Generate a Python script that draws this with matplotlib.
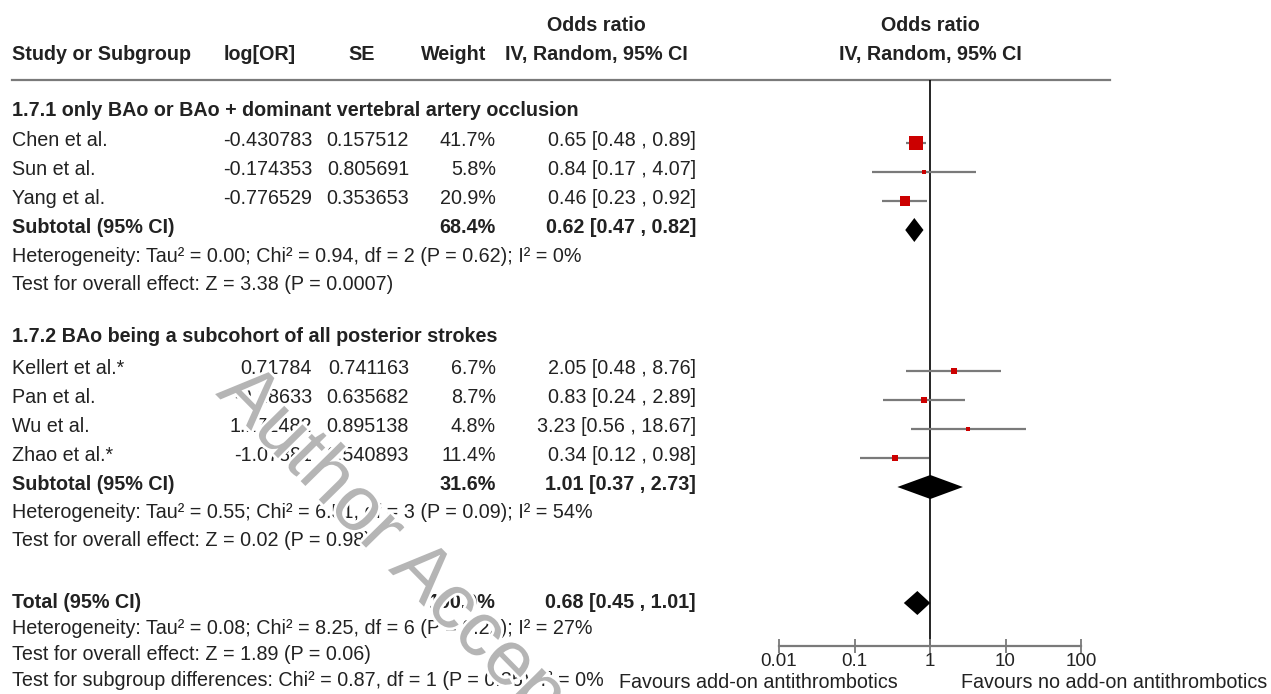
import matplotlib
matplotlib.use("Agg")
import matplotlib.pyplot as plt
import matplotlib.patheffects as pe
from matplotlib.ticker import FixedLocator, FixedFormatter, NullLocator
import numpy as np

# ---- data ----
group1_title = "1.7.1 only BAo or BAo + dominant vertebral artery occlusion"
group1_studies = ["Chen et al.", "Sun et al.", "Yang et al."]
group1_log_or = [-0.430783, -0.174353, -0.776529]
group1_se = [0.157512, 0.805691, 0.353653]
group1_weight = [41.7, 5.8, 20.9]
group1_or = [0.65, 0.84, 0.46]
group1_lo = [0.48, 0.17, 0.23]
group1_hi = [0.89, 4.07, 0.92]
group1_sub = (68.4, 0.62, 0.47, 0.82)
group1_het = "Heterogeneity: Tau² = 0.00; Chi² = 0.94, df = 2 (P = 0.62); I² = 0%"
group1_test = "Test for overall effect: Z = 3.38 (P = 0.0007)"

group2_title = "1.7.2 BAo being a subcohort of all posterior strokes"
group2_studies = ["Kellert et al.*", "Pan et al.", "Wu et al.", "Zhao et al.*"]
group2_log_or = [0.71784, -0.18633, 1.172482, -1.07881]
group2_se = [0.741163, 0.635682, 0.895138, 0.540893]
group2_weight = [6.7, 8.7, 4.8, 11.4]
group2_or = [2.05, 0.83, 3.23, 0.34]
group2_lo = [0.48, 0.24, 0.56, 0.12]
group2_hi = [8.76, 2.89, 18.67, 0.98]
group2_sub = (31.6, 1.01, 0.37, 2.73)
group2_het = "Heterogeneity: Tau² = 0.55; Chi² = 6.51, df = 3 (P = 0.09); I² = 54%"
group2_test = "Test for overall effect: Z = 0.02 (P = 0.98)"

total = (100.0, 0.68, 0.45, 1.01)
total_het = "Heterogeneity: Tau² = 0.08; Chi² = 8.25, df = 6 (P = 0.22); I² = 27%"
total_test = "Test for overall effect: Z = 1.89 (P = 0.06)"
subgroup_test = "Test for subgroup differences: Chi² = 0.87, df = 1 (P = 0.35), I² = 0%"

axis_ticks = [0.01, 0.1, 1, 10, 100]
axis_labels = ["0.01", "0.1", "1", "10", "100"]
favours_left = "Favours add-on antithrombotics"
favours_right = "Favours no add-on antithrombotics"

# ---- style ----
W, H = 1271, 694
FONT = "Liberation Sans"
FS = 14.2
TXT = "#222222"
GRAY = "#7a7a7a"
RED = "#cc0000"

plt.rcParams["font.family"] = [FONT, "DejaVu Sans"]

fig = plt.figure(figsize=(W / 100, H / 100), dpi=100)
fig.patch.set_facecolor("white")

# full-figure axes in pixel units for the table
ax = fig.add_axes([0, 0, 1, 1])
ax.set_xlim(0, W)
ax.set_ylim(H, 0)
ax.axis("off")

# forest plot axes: log scale from 0.01 to 100
x_lo_px, x_hi_px = 779, 1081
y_top_px, y_axis_px = 80, 646
fa = fig.add_axes([x_lo_px / W, (H - y_axis_px) / H,
                   (x_hi_px - x_lo_px) / W, (y_axis_px - y_top_px) / H])
fa.set_xscale("log")
fa.set_xlim(axis_ticks[0], axis_ticks[-1])
fa.set_ylim(y_axis_px, y_top_px)
fa.patch.set_alpha(0)
for s in ("top", "left", "right"):
    fa.spines[s].set_visible(False)
fa.spines["bottom"].set_color(GRAY)
fa.spines["bottom"].set_linewidth(1.6)
fa.xaxis.set_major_locator(FixedLocator(axis_ticks))
fa.xaxis.set_major_formatter(FixedFormatter(axis_labels))
fa.xaxis.set_minor_locator(NullLocator())
fa.tick_params(axis="x", direction="inout", length=10, width=1.3, color=GRAY,
               labelsize=13.6, labelcolor=TXT, pad=0)
fa.set_yticks([])
fa.axvline(1, color="black", lw=1.2, zorder=1)

# column positions (pixels)
X_STUDY = 12
X_LOGOR = 312
X_SE = 409
X_WEIGHT = 496
X_CI = 696
HDR_TABLE_C = 596
HDR_PLOT_C = 930


def txt(x, y, s, ha="left", bold=False, **kw):
    ax.text(x, y, s, ha=ha, va="center", fontsize=FS, color=TXT,
            fontweight="bold" if bold else "normal", **kw)


def ci_text(o, lo, hi):
    return f"{o:.2f} [{lo:.2f} , {hi:.2f}]"


# header
txt(HDR_TABLE_C, 25, "Odds ratio", ha="center", bold=True)
txt(HDR_PLOT_C, 25, "Odds ratio", ha="center", bold=True)
txt(X_STUDY, 54, "Study or Subgroup", bold=True)
txt(260, 54, "log[OR]", ha="center", bold=True)
txt(362, 54, "SE", ha="center", bold=True)
txt(454, 54, "Weight", ha="center", bold=True)
txt(HDR_TABLE_C, 54, "IV, Random, 95% CI", ha="center", bold=True)
txt(HDR_PLOT_C, 54, "IV, Random, 95% CI", ha="center", bold=True)
ax.plot([12, 1110], [80, 80], color=GRAY, lw=1.6)

MARK_OFF = 3
SQ_K = 2.05 * 0.72  # square side (pt) per sqrt(weight)
DIAMOND_H = 12


def draw_diamond(o, lo, hi, y):
    fa.fill([lo, o, hi, o], [y, y - DIAMOND_H, y, y + DIAMOND_H],
            color="black", lw=0, zorder=3)


def draw_group(title, y_title, rows_y, studies, log_or, se, weight, ors, los, his,
               sub, y_sub, het, y_het, test, y_test):
    txt(X_STUDY, y_title, title, bold=True)
    for y, name, lg, s, w, o, lo, hi in zip(rows_y, studies, log_or, se, weight, ors, los, his):
        txt(X_STUDY, y, name)
        txt(X_LOGOR, y, str(lg), ha="right")
        txt(X_SE, y, str(s), ha="right")
        txt(X_WEIGHT, y, f"{w:.1f}%", ha="right")
        txt(X_CI, y, ci_text(o, lo, hi), ha="right")
        ym = y + MARK_OFF
        fa.hlines(ym, lo, hi, color=GRAY, lw=1.6, zorder=2)
        fa.plot([o], [ym], marker="s", ms=SQ_K * np.sqrt(w), color=RED,
                mec=RED, mew=0, zorder=3, clip_on=False)
    sw, so, slo, shi = sub
    txt(X_STUDY, y_sub, "Subtotal (95% CI)", bold=True)
    txt(X_WEIGHT, y_sub, f"{sw:.1f}%", ha="right", bold=True)
    txt(X_CI, y_sub, ci_text(so, slo, shi), ha="right", bold=True)
    draw_diamond(so, slo, shi, y_sub + MARK_OFF)
    txt(X_STUDY, y_het, het)
    txt(X_STUDY, y_test, test)


draw_group(group1_title, 110, [140, 169, 198], group1_studies, group1_log_or,
           group1_se, group1_weight, group1_or, group1_lo, group1_hi,
           group1_sub, 227, group1_het, 256, group1_test, 284)
draw_group(group2_title, 336, [368, 397, 426, 455], group2_studies, group2_log_or,
           group2_se, group2_weight, group2_or, group2_lo, group2_hi,
           group2_sub, 484, group2_het, 512, group2_test, 540)

tw, to, tlo, thi = total
txt(X_STUDY, 603, "Total (95% CI)", bold=True)
txt(X_WEIGHT, 603, f"{tw:.1f}%", ha="right", bold=True)
txt(X_CI, 603, ci_text(to, tlo, thi), ha="right", bold=True)
draw_diamond(to, tlo, thi, 603)
txt(X_STUDY, 629, total_het)
txt(X_STUDY, 655, total_test)
txt(X_STUDY, 681, subgroup_test)
txt(898, 682, favours_left, ha="right")
txt(961, 682, favours_right)

# watermark
ax.text(215, 394, "Author Accepted Manuscript", rotation=-45.5, rotation_mode="anchor",
        ha="left", va="baseline", fontsize=56, color="#b5b5b5", zorder=10,
        path_effects=[pe.withStroke(linewidth=4, foreground="white")])

fig.savefig("out.png", dpi=100, facecolor="white")
